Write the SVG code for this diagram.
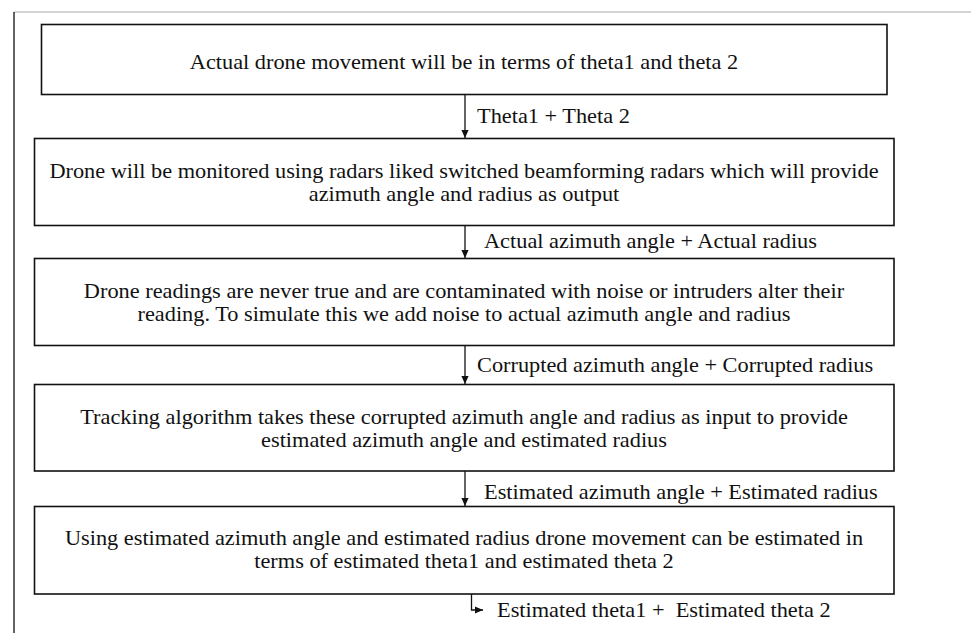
<svg xmlns="http://www.w3.org/2000/svg" width="971" height="633" viewBox="0 0 971 633">
<style>
.box{fill:#fff;stroke:#111;stroke-width:1.6}
.t{font-family:"Liberation Serif","Times New Roman",serif;font-size:20px;fill:#111;text-anchor:middle}
.l{font-family:"Liberation Serif","Times New Roman",serif;font-size:20px;fill:#111;white-space:pre}
.c{stroke:#111;stroke-width:1.3;fill:none}
</style>
<defs>
<marker id="ah" viewBox="0 0 10 10" refX="10" refY="5" markerWidth="8" markerHeight="8" orient="auto" markerUnits="userSpaceOnUse">
<path d="M0,0.5 L10,5 L0,9.5 z" fill="#111"/>
</marker>
</defs>
<rect width="971" height="633" fill="#fff"/>
<line x1="14" y1="12" x2="971" y2="12" stroke="#aaa" stroke-width="1"/>
<line x1="14" y1="12" x2="14" y2="633" stroke="#111" stroke-width="1.3"/>
<g id="n1"><rect class="box" x="41.5" y="24.5" width="845.5" height="70"/>
<text class="t" transform="matrix(1.116 0 0 1 464 69)">Actual drone movement will be in terms of theta1 and theta 2</text></g>
<g id="n2"><rect class="box" x="34.5" y="138.5" width="859.5" height="87"/>
<text class="t" transform="matrix(1.116 0 0 1 464 178)">Drone will be monitored using radars liked switched beamforming radars which will provide</text>
<text class="t" transform="matrix(1.116 0 0 1 464 201)">azimuth angle and radius as output</text></g>
<g id="n3"><rect class="box" x="34.5" y="258.5" width="859.5" height="87"/>
<text class="t" transform="matrix(1.116 0 0 1 464 298)">Drone readings are never true and are contaminated with noise or intruders alter their</text>
<text class="t" transform="matrix(1.116 0 0 1 464 321)">reading. To simulate this we add noise to actual azimuth angle and radius</text></g>
<g id="n4"><rect class="box" x="34.5" y="384.5" width="859.5" height="86.5"/>
<text class="t" transform="matrix(1.116 0 0 1 464 424)">Tracking algorithm takes these corrupted azimuth angle and radius as input to provide</text>
<text class="t" transform="matrix(1.116 0 0 1 464 447)">estimated azimuth angle and estimated radius</text></g>
<g id="n5"><rect class="box" x="34.5" y="506.5" width="859.5" height="87.5"/>
<text class="t" transform="matrix(1.116 0 0 1 464 545)">Using estimated azimuth angle and estimated radius drone movement can be estimated in</text>
<text class="t" transform="matrix(1.116 0 0 1 464 568)">terms of estimated theta1 and estimated theta 2</text></g>
<g id="connectors">
<line class="c" x1="465" y1="95" x2="465" y2="138" marker-end="url(#ah)"/>
<line class="c" x1="465" y1="226" x2="465" y2="258" marker-end="url(#ah)"/>
<line class="c" x1="465" y1="346" x2="465" y2="384" marker-end="url(#ah)"/>
<line class="c" x1="465" y1="471" x2="465" y2="506" marker-end="url(#ah)"/>
<polyline class="c" points="471.5,594 471.5,610 483,610" marker-end="url(#ah)"/>
<text class="l" transform="matrix(1.116 0 0 1 477 123)">Theta1 + Theta 2</text>
<text class="l" transform="matrix(1.116 0 0 1 484 248)">Actual azimuth angle + Actual radius</text>
<text class="l" transform="matrix(1.116 0 0 1 477 372)">Corrupted azimuth angle + Corrupted radius</text>
<text class="l" transform="matrix(1.116 0 0 1 484 499)">Estimated azimuth angle + Estimated radius</text>
<text class="l" transform="matrix(1.116 0 0 1 497 617)">Estimated theta1 +  Estimated theta 2</text>
</g>
</svg>
